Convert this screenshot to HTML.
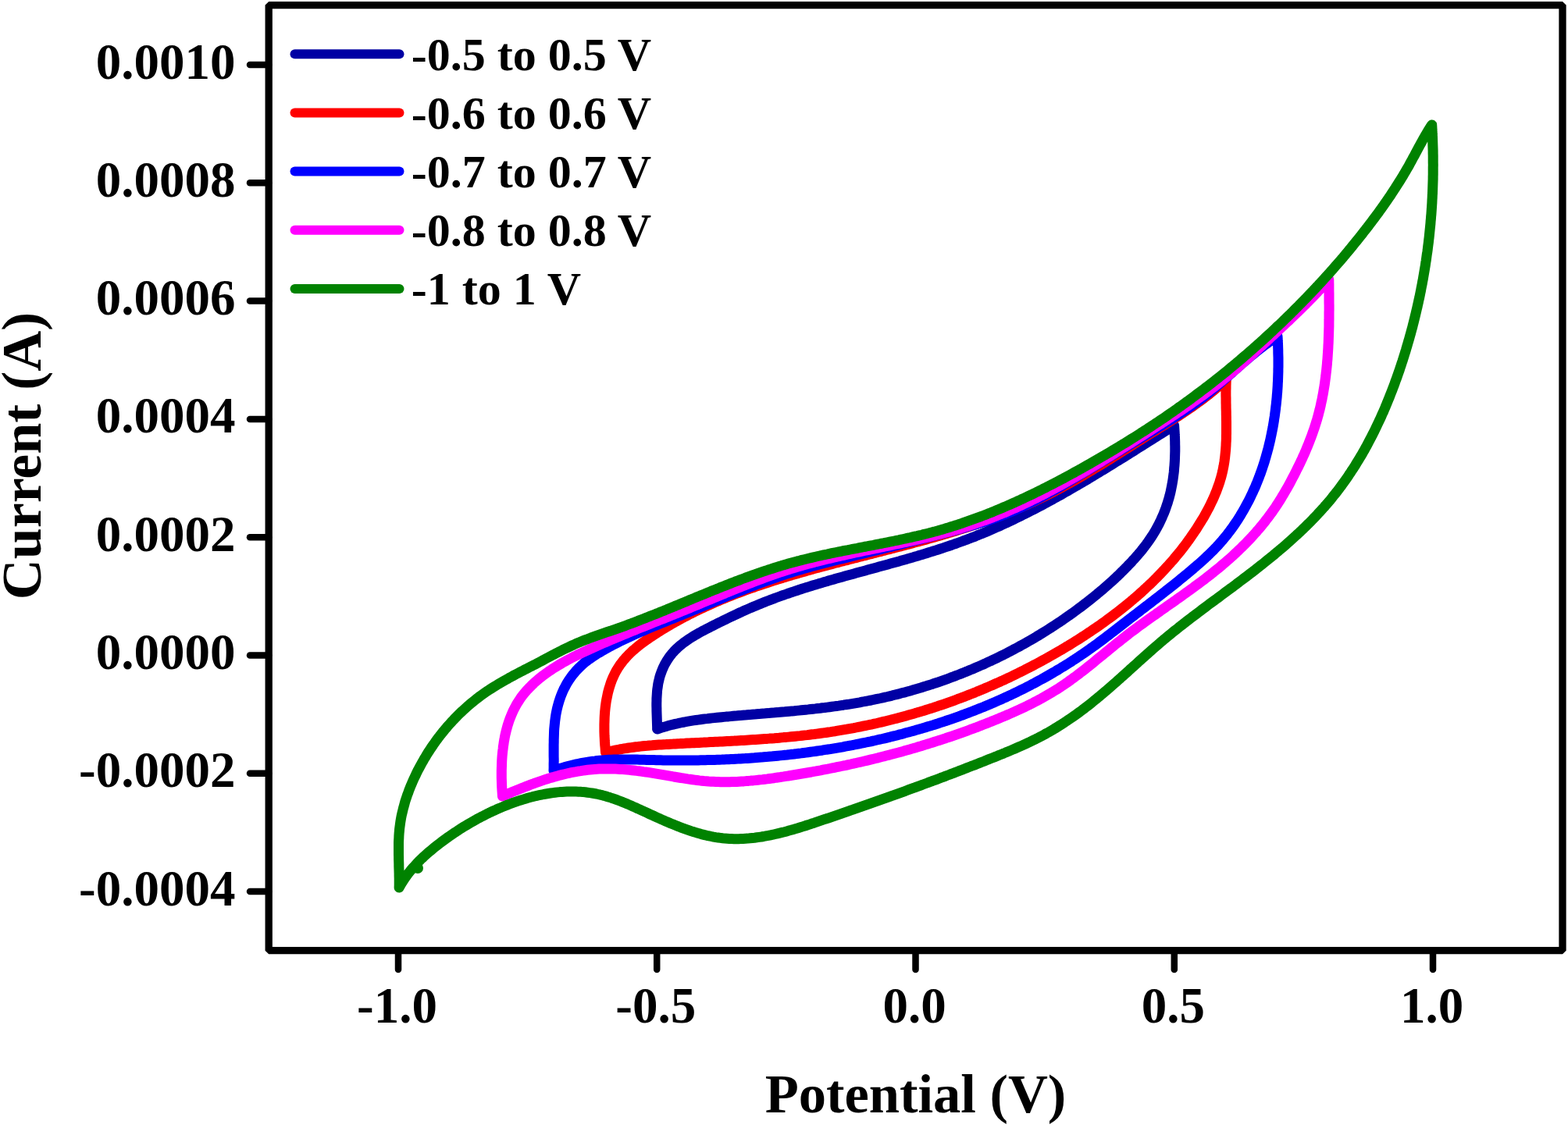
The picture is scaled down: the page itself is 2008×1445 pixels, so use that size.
<!DOCTYPE html>
<html><head><meta charset="utf-8"><title>Cyclic voltammetry</title>
<style>
html,body{margin:0;padding:0;background:#fff;width:2008px;height:1445px;overflow:hidden}
svg{display:block}
.t{font-family:"Liberation Serif",serif;font-weight:bold;font-size:65px;fill:#000}
.l{font-family:"Liberation Serif",serif;font-weight:bold;font-size:60px;fill:#000}
.ti{font-family:"Liberation Serif",serif;font-weight:bold;font-size:70.5px;fill:#000}
</style></head><body>
<svg width="2008" height="1445" viewBox="0 0 2008 1445">
<rect width="2008" height="1445" fill="#fff"/>
<path d="M841.6,934.0 841.6,931.2 841.5,928.3 841.4,925.4 841.3,922.4 841.2,919.4 841.1,916.4 841.0,913.4 840.9,910.3 840.9,907.3 840.8,904.2 840.8,901.1 840.9,898.0 840.9,895.0 841.1,891.9 841.3,888.8 841.5,885.7 841.8,882.7 842.3,879.6 842.7,876.6 843.3,873.6 844.0,870.7 844.7,867.7 845.6,864.8 846.6,862.0 847.6,859.2 848.8,856.4 850.0,853.7 851.3,851.0 852.8,848.4 854.3,845.9 855.9,843.4 857.6,841.0 859.4,838.7 861.2,836.5 863.2,834.3 865.2,832.2 867.3,830.2 869.5,828.2 871.8,826.3 874.1,824.5 876.4,822.7 878.9,820.9 881.3,819.2 883.8,817.6 886.4,816.0 889.0,814.4 891.6,812.9 894.3,811.3 896.9,809.9 899.6,808.4 902.4,807.0 905.1,805.6 907.8,804.2 910.5,802.8 913.3,801.4 916.0,800.0 918.7,798.7 921.5,797.3 924.2,796.0 926.9,794.6 929.6,793.3 932.3,792.0 935.1,790.7 937.8,789.4 940.5,788.1 943.2,786.8 946.0,785.5 948.7,784.3 951.4,783.0 954.2,781.8 956.9,780.6 959.7,779.4 962.4,778.2 965.2,777.0 967.9,775.9 970.7,774.7 973.5,773.6 976.2,772.5 979.0,771.4 981.8,770.3 984.6,769.2 987.4,768.1 990.2,767.1 993.0,766.0 995.8,765.0 998.6,764.0 1001.5,762.9 1004.3,762.0 1007.1,761.0 1010.0,760.0 1012.8,759.0 1015.6,758.1 1018.5,757.1 1021.3,756.2 1024.2,755.2 1027.1,754.3 1029.9,753.4 1032.8,752.5 1035.7,751.6 1038.5,750.7 1041.4,749.8 1044.3,749.0 1047.2,748.1 1050.0,747.2 1052.9,746.4 1055.8,745.5 1058.7,744.7 1061.6,743.8 1064.5,743.0 1067.4,742.2 1070.3,741.3 1073.2,740.5 1076.1,739.7 1079.0,738.9 1081.9,738.1 1084.8,737.3 1087.7,736.5 1090.6,735.7 1093.5,734.9 1096.4,734.1 1099.3,733.3 1102.2,732.5 1105.2,731.7 1108.1,730.9 1111.0,730.1 1113.9,729.3 1116.8,728.5 1119.7,727.7 1122.6,726.9 1125.5,726.1 1128.5,725.3 1131.4,724.5 1134.3,723.7 1137.2,722.9 1140.1,722.1 1143.0,721.3 1145.9,720.5 1148.8,719.7 1151.7,718.9 1154.6,718.0 1157.5,717.2 1160.4,716.4 1163.3,715.6 1166.2,714.7 1169.1,713.9 1172.0,713.0 1174.9,712.2 1177.8,711.3 1180.7,710.5 1183.5,709.6 1186.4,708.7 1189.3,707.8 1192.2,706.9 1195.0,706.0 1197.9,705.1 1200.8,704.2 1203.6,703.3 1206.5,702.3 1209.3,701.4 1212.2,700.4 1215.0,699.5 1217.9,698.5 1220.7,697.5 1223.6,696.5 1226.4,695.5 1229.2,694.5 1232.0,693.5 1234.8,692.4 1237.7,691.4 1240.5,690.3 1243.3,689.2 1246.1,688.2 1248.9,687.1 1251.6,685.9 1254.4,684.8 1257.2,683.7 1260.0,682.5 1262.7,681.4 1265.5,680.2 1268.3,679.0 1271.0,677.8 1273.8,676.6 1276.5,675.4 1279.3,674.2 1282.0,673.0 1284.7,671.7 1287.5,670.4 1290.2,669.2 1292.9,667.9 1295.6,666.6 1298.3,665.3 1301.0,664.0 1303.7,662.7 1306.4,661.4 1309.1,660.0 1311.8,658.7 1314.5,657.3 1317.2,656.0 1319.9,654.6 1322.6,653.2 1325.2,651.9 1327.9,650.5 1330.6,649.1 1333.2,647.7 1335.9,646.2 1338.5,644.8 1341.2,643.4 1343.8,641.9 1346.5,640.5 1349.1,639.0 1351.8,637.6 1354.4,636.1 1357.0,634.7 1359.7,633.2 1362.3,631.7 1364.9,630.2 1367.6,628.7 1370.2,627.2 1372.8,625.7 1375.4,624.2 1378.0,622.7 1380.6,621.1 1383.2,619.6 1385.8,618.1 1388.4,616.5 1391.0,615.0 1393.6,613.5 1396.2,611.9 1398.8,610.4 1401.4,608.8 1404.0,607.2 1406.6,605.7 1409.1,604.1 1411.7,602.5 1414.3,601.0 1416.9,599.4 1419.5,597.8 1422.0,596.2 1424.6,594.6 1427.2,593.0 1429.7,591.4 1432.3,589.9 1434.9,588.3 1437.4,586.7 1440.0,585.1 1442.5,583.5 1445.1,581.9 1447.7,580.3 1450.2,578.7 1452.8,577.1 1455.3,575.4 1457.9,573.8 1460.4,572.2 1463.0,570.6 1465.5,569.0 1468.1,567.4 1470.6,565.8 1473.1,564.2 1475.7,562.6 1478.2,561.0 1480.8,559.4 1483.3,557.8 1485.8,556.2 1488.4,554.6 1490.9,553.0 1493.5,551.4 1496.0,549.8 1498.5,548.2 1501.1,546.6 1503.6,545.0 1503.8,548.0 1504.0,550.9 1504.2,553.9 1504.3,556.9 1504.5,559.9 1504.6,562.9 1504.7,565.9 1504.7,568.9 1504.8,572.0 1504.8,575.0 1504.8,578.1 1504.7,581.1 1504.6,584.2 1504.5,587.2 1504.4,590.3 1504.2,593.3 1504.0,596.4 1503.7,599.4 1503.5,602.4 1503.2,605.5 1502.8,608.5 1502.4,611.5 1502.0,614.5 1501.5,617.5 1501.0,620.5 1500.4,623.5 1499.8,626.5 1499.2,629.4 1498.5,632.4 1497.8,635.3 1497.0,638.2 1496.1,641.1 1495.3,644.0 1494.3,646.8 1493.4,649.6 1492.4,652.5 1491.3,655.2 1490.2,658.0 1489.0,660.8 1487.8,663.5 1486.6,666.2 1485.3,668.9 1484.0,671.6 1482.6,674.2 1481.2,676.8 1479.7,679.4 1478.2,682.0 1476.7,684.5 1475.1,687.0 1473.4,689.5 1471.7,692.0 1470.0,694.4 1468.3,696.8 1466.5,699.2 1464.6,701.6 1462.8,704.0 1460.9,706.3 1459.0,708.6 1457.0,710.9 1455.1,713.2 1453.1,715.4 1451.0,717.6 1449.0,719.9 1446.9,722.1 1444.8,724.2 1442.7,726.4 1440.6,728.6 1438.5,730.7 1436.3,732.8 1434.2,735.0 1432.0,737.1 1429.8,739.1 1427.6,741.2 1425.4,743.3 1423.1,745.3 1420.9,747.3 1418.6,749.3 1416.3,751.3 1414.1,753.3 1411.8,755.3 1409.4,757.3 1407.1,759.2 1404.8,761.2 1402.5,763.1 1400.1,765.0 1397.7,766.9 1395.4,768.8 1393.0,770.6 1390.6,772.5 1388.2,774.3 1385.8,776.2 1383.4,778.0 1380.9,779.8 1378.5,781.6 1376.1,783.4 1373.6,785.2 1371.2,786.9 1368.7,788.7 1366.2,790.4 1363.7,792.1 1361.3,793.9 1358.8,795.6 1356.3,797.2 1353.7,798.9 1351.2,800.6 1348.7,802.2 1346.2,803.9 1343.6,805.5 1341.1,807.1 1338.5,808.7 1336.0,810.3 1333.4,811.9 1330.8,813.5 1328.2,815.0 1325.7,816.6 1323.1,818.1 1320.5,819.6 1317.8,821.1 1315.2,822.6 1312.6,824.1 1310.0,825.6 1307.3,827.0 1304.7,828.5 1302.1,829.9 1299.4,831.3 1296.7,832.8 1294.1,834.1 1291.4,835.5 1288.7,836.9 1286.0,838.3 1283.3,839.6 1280.6,840.9 1277.9,842.3 1275.2,843.6 1272.5,844.9 1269.8,846.2 1267.1,847.4 1264.3,848.7 1261.6,850.0 1258.9,851.2 1256.1,852.4 1253.4,853.6 1250.6,854.8 1247.8,856.0 1245.1,857.2 1242.3,858.3 1239.5,859.5 1236.7,860.6 1233.9,861.8 1231.1,862.9 1228.3,864.0 1225.5,865.0 1222.7,866.1 1219.9,867.2 1217.1,868.2 1214.3,869.3 1211.4,870.3 1208.6,871.3 1205.7,872.3 1202.9,873.3 1200.1,874.3 1197.2,875.2 1194.4,876.2 1191.5,877.1 1188.6,878.0 1185.8,878.9 1182.9,879.8 1180.0,880.7 1177.1,881.6 1174.2,882.4 1171.3,883.3 1168.5,884.1 1165.6,885.0 1162.7,885.8 1159.8,886.6 1156.8,887.3 1153.9,888.1 1151.0,888.9 1148.1,889.6 1145.2,890.3 1142.3,891.1 1139.3,891.8 1136.4,892.5 1133.5,893.1 1130.5,893.8 1127.6,894.5 1124.6,895.1 1121.7,895.7 1118.7,896.3 1115.8,897.0 1112.8,897.5 1109.9,898.1 1106.9,898.7 1103.9,899.2 1101.0,899.8 1098.0,900.3 1095.0,900.8 1092.0,901.3 1089.1,901.8 1086.1,902.3 1083.1,902.7 1080.1,903.2 1077.1,903.6 1074.1,904.1 1071.2,904.5 1068.2,904.9 1065.2,905.3 1062.2,905.7 1059.2,906.1 1056.2,906.5 1053.2,906.8 1050.2,907.2 1047.2,907.5 1044.2,907.9 1041.2,908.2 1038.2,908.5 1035.1,908.9 1032.1,909.2 1029.1,909.5 1026.1,909.8 1023.1,910.1 1020.1,910.4 1017.1,910.7 1014.1,910.9 1011.1,911.2 1008.0,911.5 1005.0,911.8 1002.0,912.0 999.0,912.3 996.0,912.6 993.0,912.8 990.0,913.1 987.0,913.3 983.9,913.6 980.9,913.8 977.9,914.1 974.9,914.3 971.9,914.6 968.9,914.8 965.9,915.1 962.9,915.3 959.9,915.6 956.9,915.8 953.9,916.1 950.9,916.3 947.9,916.6 944.9,916.8 941.9,917.1 938.9,917.3 935.9,917.6 932.9,917.9 929.9,918.1 926.9,918.4 923.9,918.7 920.9,919.0 918.0,919.3 915.0,919.6 912.0,919.9 909.0,920.2 906.0,920.6 903.1,920.9 900.1,921.3 897.1,921.7 894.2,922.1 891.2,922.5 888.3,922.9 885.3,923.4 882.4,923.9 879.4,924.4 876.5,925.0 873.6,925.5 870.6,926.1 867.7,926.8 864.8,927.4 861.9,928.1 859.0,928.8 856.1,929.6 853.2,930.4 850.3,931.2 847.4,932.1 844.5,933.0 841.6,934.0 Z" fill="none" stroke="#0000A4" stroke-width="13" stroke-linejoin="round" stroke-linecap="butt"/>
<path d="M775.6,964.0 775.3,961.1 775.1,958.2 774.8,955.2 774.6,952.3 774.4,949.3 774.3,946.3 774.1,943.2 774.0,940.2 773.9,937.1 773.9,934.0 773.9,931.0 773.9,927.9 774.0,924.8 774.1,921.7 774.2,918.6 774.4,915.5 774.6,912.5 774.9,909.4 775.2,906.3 775.6,903.3 776.0,900.3 776.5,897.2 777.1,894.2 777.7,891.3 778.3,888.3 779.0,885.4 779.8,882.5 780.7,879.6 781.6,876.8 782.5,874.0 783.6,871.2 784.7,868.5 785.9,865.8 787.2,863.2 788.5,860.6 790.0,858.0 791.5,855.5 793.1,853.1 794.7,850.7 796.5,848.4 798.3,846.1 800.2,843.9 802.2,841.7 804.2,839.5 806.3,837.4 808.4,835.4 810.6,833.3 812.9,831.4 815.2,829.4 817.5,827.5 819.9,825.6 822.3,823.8 824.8,822.0 827.2,820.2 829.7,818.5 832.3,816.7 834.8,815.0 837.4,813.3 839.9,811.7 842.5,810.0 845.1,808.4 847.7,806.8 850.3,805.2 852.9,803.6 855.5,802.1 858.1,800.6 860.8,799.0 863.4,797.5 866.1,796.1 868.7,794.6 871.4,793.2 874.0,791.7 876.7,790.3 879.4,788.9 882.0,787.5 884.7,786.2 887.4,784.8 890.1,783.5 892.8,782.2 895.5,780.8 898.2,779.6 901.0,778.3 903.7,777.0 906.4,775.8 909.2,774.5 911.9,773.3 914.7,772.1 917.4,770.9 920.2,769.7 922.9,768.6 925.7,767.4 928.5,766.3 931.3,765.1 934.0,764.0 936.8,762.9 939.6,761.8 942.4,760.7 945.2,759.7 948.0,758.6 950.8,757.6 953.7,756.5 956.5,755.5 959.3,754.5 962.1,753.5 965.0,752.5 967.8,751.5 970.6,750.5 973.5,749.6 976.3,748.6 979.2,747.6 982.0,746.7 984.9,745.8 987.7,744.9 990.6,743.9 993.5,743.0 996.3,742.1 999.2,741.2 1002.1,740.4 1005.0,739.5 1007.8,738.6 1010.7,737.7 1013.6,736.9 1016.5,736.0 1019.4,735.2 1022.3,734.4 1025.2,733.5 1028.1,732.7 1031.0,731.9 1033.9,731.1 1036.8,730.3 1039.7,729.4 1042.6,728.6 1045.5,727.8 1048.4,727.1 1051.3,726.3 1054.2,725.5 1057.2,724.7 1060.1,723.9 1063.0,723.2 1065.9,722.4 1068.8,721.6 1071.7,720.8 1074.7,720.1 1077.6,719.3 1080.5,718.6 1083.4,717.8 1086.4,717.1 1089.3,716.3 1092.2,715.6 1095.1,714.8 1098.1,714.1 1101.0,713.3 1103.9,712.6 1106.8,711.8 1109.8,711.1 1112.7,710.3 1115.6,709.6 1118.6,708.8 1121.5,708.1 1124.4,707.3 1127.3,706.6 1130.3,705.8 1133.2,705.1 1136.1,704.3 1139.0,703.6 1142.0,702.8 1144.9,702.1 1147.8,701.3 1150.7,700.5 1153.7,699.8 1156.6,699.0 1159.5,698.2 1162.4,697.5 1165.3,696.7 1168.2,695.9 1171.1,695.1 1174.1,694.3 1177.0,693.6 1179.9,692.8 1182.8,692.0 1185.7,691.2 1188.6,690.3 1191.5,689.5 1194.4,688.7 1197.3,687.9 1200.2,687.1 1203.1,686.2 1206.0,685.4 1208.8,684.5 1211.7,683.7 1214.6,682.8 1217.5,682.0 1220.4,681.1 1223.2,680.2 1226.1,679.3 1229.0,678.4 1231.8,677.5 1234.7,676.6 1237.5,675.7 1240.4,674.8 1243.3,673.8 1246.1,672.9 1248.9,671.9 1251.8,671.0 1254.6,670.0 1257.5,669.0 1260.3,668.0 1263.1,667.0 1265.9,666.0 1268.8,665.0 1271.6,664.0 1274.4,663.0 1277.2,661.9 1280.0,660.9 1282.8,659.8 1285.6,658.7 1288.4,657.6 1291.1,656.5 1293.9,655.4 1296.7,654.3 1299.5,653.1 1302.2,652.0 1305.0,650.8 1307.7,649.6 1310.5,648.4 1313.2,647.2 1316.0,646.0 1318.7,644.8 1321.4,643.6 1324.1,642.3 1326.9,641.0 1329.6,639.7 1332.3,638.4 1335.0,637.1 1337.7,635.8 1340.4,634.5 1343.0,633.1 1345.7,631.8 1348.4,630.4 1351.1,629.0 1353.7,627.6 1356.4,626.2 1359.0,624.8 1361.7,623.3 1364.3,621.9 1367.0,620.4 1369.6,619.0 1372.2,617.5 1374.9,616.0 1377.5,614.5 1380.1,613.0 1382.7,611.5 1385.3,610.0 1387.9,608.5 1390.6,606.9 1393.2,605.4 1395.8,603.8 1398.4,602.3 1400.9,600.7 1403.5,599.2 1406.1,597.6 1408.7,596.0 1411.3,594.5 1413.9,592.9 1416.4,591.3 1419.0,589.7 1421.6,588.1 1424.2,586.5 1426.7,584.9 1429.3,583.3 1431.9,581.7 1434.4,580.1 1437.0,578.5 1439.5,576.9 1442.1,575.2 1444.7,573.6 1447.2,572.0 1449.8,570.4 1452.3,568.8 1454.9,567.2 1457.4,565.6 1460.0,564.0 1462.5,562.3 1465.1,560.7 1467.6,559.1 1470.2,557.5 1472.7,555.9 1475.3,554.3 1477.8,552.7 1480.4,551.1 1482.9,549.5 1485.4,547.9 1488.0,546.4 1490.5,544.8 1493.1,543.2 1495.6,541.6 1498.1,539.9 1500.7,538.3 1503.2,536.7 1505.7,535.1 1508.2,533.5 1510.7,531.8 1513.2,530.2 1515.7,528.5 1518.2,526.9 1520.7,525.2 1523.1,523.5 1525.6,521.8 1528.0,520.1 1530.5,518.3 1532.9,516.6 1535.3,514.8 1537.8,513.1 1540.2,511.3 1542.6,509.4 1544.9,507.6 1547.3,505.8 1549.7,503.9 1552.0,502.0 1554.4,500.1 1556.7,498.1 1559.0,496.2 1561.3,494.2 1563.6,492.2 1565.8,490.2 1568.1,488.1 1570.3,486.0 1570.2,488.9 1570.1,491.8 1570.0,494.8 1570.0,497.7 1569.9,500.7 1569.9,503.7 1569.9,506.7 1570.0,509.7 1570.0,512.7 1570.0,515.7 1570.1,518.7 1570.1,521.7 1570.2,524.8 1570.3,527.8 1570.3,530.9 1570.4,533.9 1570.4,537.0 1570.5,540.1 1570.5,543.1 1570.5,546.2 1570.5,549.3 1570.5,552.3 1570.5,555.4 1570.4,558.4 1570.4,561.5 1570.3,564.5 1570.1,567.6 1570.0,570.6 1569.8,573.7 1569.6,576.7 1569.3,579.7 1569.0,582.7 1568.7,585.7 1568.3,588.7 1567.9,591.7 1567.4,594.7 1566.9,597.6 1566.3,600.6 1565.7,603.5 1565.0,606.4 1564.3,609.3 1563.5,612.2 1562.6,615.0 1561.8,617.9 1560.8,620.7 1559.8,623.5 1558.8,626.3 1557.8,629.1 1556.6,631.9 1555.5,634.6 1554.3,637.4 1553.1,640.1 1551.8,642.8 1550.5,645.5 1549.2,648.2 1547.8,650.9 1546.4,653.5 1545.0,656.1 1543.5,658.8 1542.1,661.4 1540.6,664.0 1539.0,666.5 1537.5,669.1 1535.9,671.6 1534.3,674.2 1532.7,676.7 1531.1,679.2 1529.4,681.7 1527.7,684.2 1526.0,686.6 1524.3,689.1 1522.6,691.5 1520.8,693.9 1519.1,696.3 1517.3,698.7 1515.4,701.1 1513.6,703.4 1511.8,705.8 1509.9,708.1 1508.0,710.4 1506.1,712.7 1504.2,715.0 1502.3,717.3 1500.3,719.5 1498.3,721.8 1496.3,724.0 1494.3,726.2 1492.3,728.4 1490.3,730.6 1488.2,732.8 1486.1,735.0 1484.1,737.1 1482.0,739.3 1479.8,741.4 1477.7,743.5 1475.6,745.6 1473.4,747.7 1471.2,749.8 1469.0,751.8 1466.8,753.9 1464.6,755.9 1462.4,758.0 1460.1,760.0 1457.9,762.0 1455.6,764.0 1453.3,765.9 1451.0,767.9 1448.7,769.8 1446.4,771.8 1444.1,773.7 1441.7,775.6 1439.4,777.5 1437.0,779.4 1434.7,781.3 1432.3,783.1 1429.9,785.0 1427.5,786.8 1425.0,788.7 1422.6,790.5 1420.2,792.3 1417.7,794.1 1415.3,795.9 1412.8,797.7 1410.3,799.4 1407.8,801.2 1405.4,802.9 1402.9,804.6 1400.3,806.3 1397.8,808.1 1395.3,809.7 1392.8,811.4 1390.2,813.1 1387.7,814.8 1385.1,816.4 1382.6,818.1 1380.0,819.7 1377.4,821.3 1374.9,822.9 1372.3,824.5 1369.7,826.1 1367.1,827.7 1364.5,829.2 1361.9,830.8 1359.3,832.4 1356.6,833.9 1354.0,835.4 1351.4,836.9 1348.8,838.4 1346.1,839.9 1343.5,841.4 1340.9,842.9 1338.2,844.4 1335.6,845.8 1332.9,847.3 1330.2,848.7 1327.6,850.1 1324.9,851.5 1322.2,853.0 1319.6,854.4 1316.9,855.7 1314.2,857.1 1311.5,858.5 1308.8,859.8 1306.1,861.2 1303.4,862.5 1300.7,863.8 1298.0,865.2 1295.3,866.5 1292.5,867.8 1289.8,869.0 1287.1,870.3 1284.4,871.6 1281.6,872.8 1278.9,874.1 1276.1,875.3 1273.4,876.5 1270.7,877.7 1267.9,878.9 1265.1,880.1 1262.4,881.3 1259.6,882.5 1256.8,883.6 1254.1,884.8 1251.3,885.9 1248.5,887.1 1245.7,888.2 1242.9,889.3 1240.1,890.4 1237.3,891.5 1234.5,892.6 1231.7,893.6 1228.9,894.7 1226.1,895.7 1223.3,896.8 1220.5,897.8 1217.7,898.8 1214.8,899.8 1212.0,900.8 1209.2,901.8 1206.4,902.8 1203.5,903.7 1200.7,904.7 1197.8,905.6 1195.0,906.6 1192.1,907.5 1189.3,908.4 1186.4,909.3 1183.5,910.2 1180.7,911.1 1177.8,911.9 1174.9,912.8 1172.1,913.6 1169.2,914.5 1166.3,915.3 1163.4,916.1 1160.5,916.9 1157.6,917.7 1154.8,918.5 1151.9,919.3 1149.0,920.1 1146.1,920.8 1143.2,921.5 1140.2,922.3 1137.3,923.0 1134.4,923.7 1131.5,924.4 1128.6,925.1 1125.7,925.8 1122.7,926.5 1119.8,927.1 1116.9,927.8 1113.9,928.4 1111.0,929.0 1108.1,929.6 1105.1,930.2 1102.2,930.8 1099.2,931.4 1096.3,932.0 1093.3,932.6 1090.4,933.1 1087.4,933.6 1084.4,934.2 1081.5,934.7 1078.5,935.2 1075.5,935.7 1072.6,936.2 1069.6,936.7 1066.6,937.1 1063.6,937.6 1060.7,938.0 1057.7,938.5 1054.7,938.9 1051.7,939.3 1048.7,939.7 1045.7,940.1 1042.7,940.5 1039.7,940.8 1036.7,941.2 1033.7,941.6 1030.7,941.9 1027.7,942.2 1024.7,942.6 1021.7,942.9 1018.7,943.2 1015.7,943.5 1012.7,943.8 1009.7,944.1 1006.7,944.4 1003.6,944.6 1000.6,944.9 997.6,945.2 994.6,945.4 991.6,945.7 988.5,945.9 985.5,946.1 982.5,946.4 979.5,946.6 976.5,946.8 973.4,947.0 970.4,947.2 967.4,947.4 964.4,947.6 961.3,947.8 958.3,948.0 955.3,948.2 952.3,948.4 949.2,948.5 946.2,948.7 943.2,948.9 940.2,949.1 937.1,949.2 934.1,949.4 931.1,949.5 928.1,949.7 925.1,949.9 922.0,950.0 919.0,950.2 916.0,950.3 913.0,950.5 910.0,950.6 906.9,950.8 903.9,950.9 900.9,951.1 897.9,951.2 894.9,951.4 891.9,951.5 888.9,951.7 885.9,951.8 882.8,952.0 879.8,952.1 876.8,952.3 873.8,952.4 870.8,952.6 867.8,952.7 864.8,952.9 861.9,953.1 858.9,953.2 855.9,953.4 852.9,953.6 849.9,953.7 846.9,953.9 843.9,954.1 841.0,954.3 838.0,954.5 835.0,954.8 832.0,955.0 829.0,955.3 826.1,955.5 823.1,955.8 820.1,956.1 817.2,956.5 814.2,956.8 811.2,957.2 808.3,957.6 805.3,958.0 802.3,958.5 799.3,958.9 796.4,959.5 793.4,960.0 790.4,960.6 787.5,961.2 784.5,961.8 781.5,962.5 778.6,963.2 775.6,964.0 Z" fill="none" stroke="#FF0000" stroke-width="13" stroke-linejoin="round" stroke-linecap="butt"/>
<path d="M709.0,987.0 709.1,984.0 709.1,981.1 709.1,978.1 709.2,975.1 709.2,972.1 709.1,969.1 709.1,966.1 709.1,963.1 709.1,960.0 709.1,957.0 709.1,954.0 709.2,951.0 709.2,947.9 709.3,944.9 709.4,941.9 709.5,938.9 709.6,935.8 709.8,932.8 710.1,929.8 710.4,926.8 710.7,923.8 711.1,920.8 711.5,917.8 712.0,914.8 712.6,911.8 713.2,908.8 713.9,905.9 714.7,902.9 715.5,900.0 716.4,897.1 717.4,894.2 718.4,891.4 719.5,888.6 720.7,885.8 721.9,883.1 723.3,880.4 724.7,877.7 726.2,875.1 727.8,872.6 729.4,870.1 731.1,867.6 732.9,865.2 734.8,862.9 736.7,860.6 738.7,858.3 740.8,856.2 742.9,854.1 745.1,852.0 747.3,850.0 749.6,848.1 752.0,846.3 754.3,844.5 756.8,842.8 759.3,841.1 761.8,839.5 764.3,837.9 766.9,836.3 769.5,834.8 772.0,833.3 774.7,831.8 777.3,830.4 779.9,828.9 782.5,827.5 785.2,826.1 787.9,824.7 790.5,823.4 793.2,822.0 795.9,820.7 798.6,819.4 801.3,818.1 804.0,816.8 806.8,815.5 809.5,814.3 812.2,813.0 815.0,811.8 817.7,810.6 820.5,809.4 823.2,808.2 826.0,807.0 828.8,805.8 831.6,804.6 834.3,803.5 837.1,802.3 839.9,801.2 842.7,800.0 845.5,798.9 848.3,797.7 851.1,796.6 853.9,795.5 856.7,794.3 859.5,793.2 862.3,792.1 865.1,791.0 867.9,789.8 870.7,788.7 873.5,787.6 876.3,786.4 879.1,785.3 881.8,784.1 884.6,783.0 887.4,781.8 890.2,780.7 893.0,779.5 895.8,778.4 898.5,777.2 901.3,776.1 904.1,774.9 906.9,773.8 909.7,772.6 912.4,771.5 915.2,770.3 918.0,769.2 920.8,768.0 923.5,766.9 926.3,765.7 929.1,764.6 931.9,763.4 934.7,762.3 937.5,761.2 940.2,760.0 943.0,758.9 945.8,757.8 948.6,756.7 951.4,755.6 954.2,754.5 957.0,753.4 959.8,752.3 962.6,751.2 965.4,750.1 968.2,749.0 971.0,748.0 973.8,746.9 976.6,745.9 979.4,744.8 982.3,743.8 985.1,742.8 987.9,741.8 990.7,740.8 993.6,739.8 996.4,738.8 999.3,737.9 1002.1,736.9 1005.0,736.0 1007.8,735.0 1010.7,734.1 1013.6,733.2 1016.4,732.3 1019.3,731.4 1022.2,730.6 1025.1,729.7 1028.0,728.9 1030.9,728.0 1033.8,727.2 1036.7,726.4 1039.6,725.6 1042.5,724.8 1045.4,724.0 1048.4,723.2 1051.3,722.5 1054.2,721.7 1057.1,721.0 1060.1,720.2 1063.0,719.5 1065.9,718.7 1068.9,718.0 1071.8,717.3 1074.7,716.5 1077.7,715.8 1080.6,715.1 1083.5,714.4 1086.5,713.7 1089.4,712.9 1092.4,712.2 1095.3,711.5 1098.2,710.8 1101.2,710.1 1104.1,709.4 1107.0,708.7 1109.9,707.9 1112.9,707.2 1115.8,706.5 1118.7,705.8 1121.7,705.1 1124.6,704.4 1127.5,703.7 1130.4,702.9 1133.3,702.2 1136.3,701.5 1139.2,700.8 1142.1,700.1 1145.0,699.3 1147.9,698.6 1150.9,697.9 1153.8,697.2 1156.7,696.4 1159.6,695.7 1162.5,695.0 1165.4,694.2 1168.4,693.5 1171.3,692.8 1174.2,692.0 1177.1,691.3 1180.0,690.5 1182.9,689.8 1185.9,689.1 1188.8,688.3 1191.7,687.6 1194.6,686.8 1197.5,686.1 1200.4,685.3 1203.3,684.6 1206.2,683.8 1209.2,683.1 1212.1,682.3 1215.0,681.5 1217.9,680.8 1220.8,680.0 1223.7,679.2 1226.6,678.4 1229.5,677.6 1232.4,676.8 1235.3,676.0 1238.2,675.1 1241.1,674.3 1244.0,673.4 1246.9,672.6 1249.8,671.7 1252.6,670.8 1255.5,669.9 1258.4,669.0 1261.2,668.1 1264.1,667.1 1266.9,666.2 1269.8,665.2 1272.6,664.2 1275.4,663.2 1278.2,662.1 1281.1,661.1 1283.9,660.0 1286.7,658.9 1289.4,657.8 1292.2,656.6 1295.0,655.5 1297.8,654.3 1300.5,653.1 1303.3,651.8 1306.0,650.6 1308.7,649.3 1311.5,648.1 1314.2,646.7 1316.9,645.4 1319.6,644.1 1322.3,642.7 1325.0,641.4 1327.7,640.0 1330.3,638.6 1333.0,637.2 1335.7,635.8 1338.3,634.3 1341.0,632.9 1343.6,631.4 1346.3,629.9 1348.9,628.5 1351.6,627.0 1354.2,625.5 1356.8,624.0 1359.4,622.5 1362.1,620.9 1364.7,619.4 1367.3,617.9 1369.9,616.3 1372.5,614.8 1375.1,613.2 1377.7,611.7 1380.3,610.1 1382.9,608.6 1385.4,607.0 1388.0,605.5 1390.6,603.9 1393.2,602.4 1395.8,600.8 1398.4,599.2 1400.9,597.7 1403.5,596.1 1406.1,594.6 1408.6,593.0 1411.2,591.4 1413.8,589.9 1416.3,588.3 1418.9,586.8 1421.5,585.2 1424.0,583.6 1426.6,582.1 1429.2,580.5 1431.7,579.0 1434.3,577.4 1436.9,575.8 1439.4,574.3 1442.0,572.7 1444.5,571.2 1447.1,569.6 1449.7,568.0 1452.2,566.5 1454.8,564.9 1457.4,563.4 1459.9,561.8 1462.5,560.2 1465.1,558.7 1467.6,557.1 1470.2,555.6 1472.8,554.0 1475.4,552.4 1477.9,550.9 1480.5,549.3 1483.1,547.7 1485.7,546.2 1488.3,544.6 1490.8,543.0 1493.4,541.4 1496.0,539.8 1498.5,538.2 1501.1,536.6 1503.6,535.0 1506.2,533.4 1508.7,531.7 1511.2,530.1 1513.7,528.4 1516.3,526.7 1518.8,525.1 1521.2,523.4 1523.7,521.6 1526.2,519.9 1528.6,518.2 1531.1,516.4 1533.5,514.6 1535.9,512.8 1538.3,511.0 1540.7,509.2 1543.1,507.3 1545.4,505.4 1547.7,503.5 1550.1,501.6 1552.4,499.7 1554.7,497.7 1557.0,495.8 1559.2,493.8 1561.5,491.8 1563.8,489.8 1566.0,487.8 1568.3,485.8 1570.5,483.8 1572.8,481.8 1575.0,479.8 1577.3,477.8 1579.5,475.8 1581.7,473.8 1584.0,471.8 1586.2,469.8 1588.5,467.8 1590.7,465.8 1593.0,463.8 1595.3,461.8 1597.6,459.9 1599.8,457.9 1602.1,456.0 1604.5,454.1 1606.8,452.2 1609.1,450.3 1611.5,448.4 1613.8,446.5 1616.2,444.7 1618.6,442.9 1621.0,441.1 1623.5,439.4 1625.9,437.6 1628.4,435.9 1630.9,434.3 1633.4,432.6 1636.0,431.0 1636.2,434.0 1636.3,437.0 1636.5,440.0 1636.6,443.0 1636.7,446.0 1636.8,449.0 1636.8,452.0 1636.9,455.0 1637.0,458.0 1637.0,461.0 1637.0,464.1 1637.0,467.1 1637.0,470.1 1636.9,473.1 1636.9,476.1 1636.8,479.1 1636.7,482.2 1636.6,485.2 1636.5,488.2 1636.3,491.2 1636.2,494.2 1636.0,497.2 1635.8,500.2 1635.6,503.2 1635.3,506.2 1635.1,509.2 1634.8,512.2 1634.5,515.2 1634.2,518.2 1633.8,521.2 1633.5,524.2 1633.1,527.2 1632.7,530.2 1632.3,533.2 1631.8,536.2 1631.4,539.1 1630.9,542.1 1630.4,545.1 1629.9,548.0 1629.3,551.0 1628.7,553.9 1628.1,556.9 1627.5,559.8 1626.9,562.8 1626.2,565.7 1625.5,568.6 1624.8,571.5 1624.1,574.4 1623.3,577.3 1622.5,580.2 1621.7,583.1 1620.9,586.0 1620.0,588.9 1619.2,591.8 1618.3,594.6 1617.3,597.5 1616.4,600.3 1615.4,603.2 1614.4,606.0 1613.3,608.8 1612.3,611.6 1611.2,614.4 1610.1,617.2 1608.9,620.0 1607.8,622.8 1606.6,625.5 1605.3,628.3 1604.1,631.0 1602.8,633.7 1601.5,636.5 1600.2,639.2 1598.8,641.9 1597.4,644.6 1596.0,647.2 1594.5,649.9 1593.1,652.5 1591.6,655.1 1590.0,657.7 1588.5,660.3 1586.9,662.9 1585.3,665.4 1583.6,668.0 1581.9,670.5 1580.2,673.0 1578.5,675.4 1576.7,677.9 1574.9,680.3 1573.1,682.7 1571.3,685.1 1569.4,687.4 1567.5,689.7 1565.6,692.0 1563.6,694.3 1561.6,696.6 1559.6,698.8 1557.5,701.0 1555.4,703.1 1553.4,705.3 1551.2,707.4 1549.1,709.5 1546.9,711.6 1544.7,713.6 1542.5,715.7 1540.3,717.7 1538.1,719.7 1535.9,721.7 1533.6,723.7 1531.3,725.7 1529.0,727.6 1526.8,729.6 1524.5,731.5 1522.1,733.5 1519.8,735.4 1517.5,737.3 1515.2,739.2 1512.9,741.1 1510.5,743.0 1508.2,744.9 1505.8,746.8 1503.5,748.7 1501.1,750.6 1498.8,752.4 1496.4,754.3 1494.0,756.2 1491.7,758.0 1489.3,759.9 1486.9,761.7 1484.6,763.6 1482.2,765.4 1479.8,767.3 1477.4,769.1 1475.1,770.9 1472.7,772.8 1470.3,774.6 1467.9,776.4 1465.5,778.3 1463.1,780.1 1460.7,781.9 1458.4,783.8 1456.0,785.6 1453.6,787.4 1451.2,789.3 1448.8,791.1 1446.4,792.9 1444.1,794.8 1441.7,796.6 1439.3,798.5 1436.9,800.3 1434.5,802.2 1432.1,804.0 1429.8,805.8 1427.4,807.7 1425.0,809.5 1422.6,811.4 1420.2,813.2 1417.8,815.0 1415.4,816.9 1413.0,818.7 1410.6,820.5 1408.2,822.3 1405.8,824.1 1403.3,825.9 1400.9,827.6 1398.5,829.4 1396.0,831.1 1393.6,832.9 1391.1,834.6 1388.6,836.3 1386.2,838.0 1383.7,839.7 1381.2,841.4 1378.7,843.0 1376.2,844.7 1373.6,846.3 1371.1,848.0 1368.6,849.6 1366.0,851.2 1363.5,852.8 1360.9,854.3 1358.4,855.9 1355.8,857.5 1353.2,859.0 1350.7,860.5 1348.1,862.0 1345.5,863.5 1342.9,865.0 1340.3,866.5 1337.7,868.0 1335.0,869.5 1332.4,870.9 1329.8,872.3 1327.1,873.8 1324.5,875.2 1321.8,876.6 1319.2,878.0 1316.5,879.3 1313.8,880.7 1311.2,882.1 1308.5,883.4 1305.8,884.7 1303.1,886.1 1300.4,887.4 1297.7,888.7 1295.0,890.0 1292.2,891.2 1289.5,892.5 1286.8,893.7 1284.1,895.0 1281.3,896.2 1278.6,897.4 1275.8,898.7 1273.1,899.9 1270.3,901.0 1267.5,902.2 1264.8,903.4 1262.0,904.5 1259.2,905.7 1256.4,906.8 1253.6,907.9 1250.8,909.0 1248.0,910.1 1245.2,911.2 1242.4,912.3 1239.6,913.4 1236.8,914.4 1234.0,915.5 1231.1,916.5 1228.3,917.6 1225.5,918.6 1222.6,919.6 1219.8,920.6 1216.9,921.6 1214.1,922.5 1211.2,923.5 1208.4,924.5 1205.5,925.4 1202.6,926.3 1199.8,927.3 1196.9,928.2 1194.0,929.1 1191.1,930.0 1188.2,930.8 1185.3,931.7 1182.5,932.6 1179.6,933.4 1176.7,934.3 1173.8,935.1 1170.9,935.9 1167.9,936.8 1165.0,937.6 1162.1,938.3 1159.2,939.1 1156.3,939.9 1153.4,940.7 1150.4,941.4 1147.5,942.2 1144.6,942.9 1141.6,943.6 1138.7,944.4 1135.8,945.1 1132.8,945.8 1129.9,946.5 1126.9,947.1 1124.0,947.8 1121.0,948.5 1118.1,949.1 1115.1,949.8 1112.2,950.4 1109.2,951.0 1106.3,951.6 1103.3,952.2 1100.3,952.8 1097.4,953.4 1094.4,954.0 1091.4,954.6 1088.5,955.1 1085.5,955.7 1082.5,956.2 1079.6,956.8 1076.6,957.3 1073.6,957.8 1070.6,958.3 1067.7,958.8 1064.7,959.3 1061.7,959.8 1058.7,960.2 1055.7,960.7 1052.8,961.2 1049.8,961.6 1046.8,962.0 1043.8,962.5 1040.8,962.9 1037.8,963.3 1034.8,963.7 1031.9,964.1 1028.9,964.5 1025.9,964.9 1022.9,965.2 1019.9,965.6 1016.9,966.0 1013.9,966.3 1011.0,966.6 1008.0,967.0 1005.0,967.3 1002.0,967.6 999.0,967.9 996.0,968.2 993.0,968.5 990.0,968.8 987.1,969.1 984.1,969.3 981.1,969.6 978.1,969.8 975.1,970.1 972.1,970.3 969.1,970.5 966.1,970.8 963.2,971.0 960.2,971.2 957.2,971.4 954.2,971.6 951.2,971.7 948.2,971.9 945.2,972.1 942.2,972.2 939.2,972.4 936.2,972.5 933.3,972.7 930.3,972.8 927.3,972.9 924.3,973.1 921.3,973.2 918.3,973.3 915.3,973.4 912.3,973.5 909.3,973.6 906.3,973.6 903.3,973.7 900.3,973.8 897.3,973.8 894.3,973.9 891.3,973.9 888.3,974.0 885.3,974.0 882.3,974.0 879.3,974.0 876.3,974.0 873.3,974.0 870.3,974.0 867.3,974.0 864.3,974.0 861.3,974.0 858.3,974.0 855.2,974.0 852.2,973.9 849.2,973.9 846.2,973.8 843.2,973.8 840.2,973.7 837.2,973.6 834.1,973.6 831.1,973.5 828.1,973.4 825.1,973.3 822.0,973.3 819.0,973.2 816.0,973.1 813.0,973.0 810.0,973.0 806.9,973.0 803.9,972.9 800.9,972.9 797.9,972.9 794.9,972.9 791.9,973.0 788.8,973.0 785.8,973.1 782.8,973.2 779.8,973.3 776.8,973.5 773.8,973.7 770.8,973.9 767.8,974.2 764.8,974.5 761.9,974.9 758.9,975.2 755.9,975.6 752.9,976.1 750.0,976.6 747.0,977.1 744.0,977.7 741.1,978.3 738.1,978.9 735.2,979.6 732.3,980.3 729.3,981.0 726.4,981.8 723.5,982.6 720.6,983.4 717.7,984.2 714.8,985.1 711.9,986.1 709.0,987.0 Z" fill="none" stroke="#0000FF" stroke-width="13" stroke-linejoin="round" stroke-linecap="butt"/>
<path d="M643.5,1020.0 643.3,1017.1 643.1,1014.2 642.9,1011.2 642.7,1008.3 642.6,1005.3 642.5,1002.3 642.4,999.3 642.3,996.2 642.3,993.2 642.3,990.2 642.3,987.1 642.4,984.0 642.5,981.0 642.6,977.9 642.7,974.8 642.9,971.7 643.1,968.7 643.4,965.6 643.7,962.5 644.1,959.5 644.4,956.4 644.9,953.4 645.3,950.3 645.9,947.3 646.4,944.3 647.0,941.3 647.7,938.4 648.4,935.4 649.2,932.5 650.0,929.6 650.9,926.8 651.8,923.9 652.8,921.1 653.9,918.3 655.0,915.6 656.2,912.9 657.4,910.2 658.7,907.6 660.1,905.0 661.5,902.4 663.0,899.9 664.6,897.4 666.2,895.0 667.9,892.6 669.7,890.3 671.5,888.0 673.4,885.8 675.4,883.5 677.4,881.4 679.5,879.3 681.6,877.2 683.7,875.2 686.0,873.2 688.2,871.2 690.5,869.3 692.9,867.4 695.2,865.5 697.7,863.7 700.1,862.0 702.6,860.2 705.1,858.5 707.6,856.8 710.2,855.2 712.8,853.6 715.4,852.0 718.0,850.5 720.7,848.9 723.3,847.5 726.0,846.0 728.7,844.6 731.4,843.1 734.1,841.7 736.8,840.4 739.5,839.0 742.3,837.7 745.0,836.4 747.7,835.1 750.5,833.8 753.3,832.5 756.0,831.3 758.8,830.0 761.5,828.8 764.3,827.5 767.1,826.3 769.8,825.1 772.6,823.9 775.4,822.7 778.2,821.5 780.9,820.3 783.7,819.1 786.5,818.0 789.3,816.8 792.0,815.7 794.8,814.5 797.6,813.4 800.4,812.2 803.2,811.1 805.9,809.9 808.7,808.8 811.5,807.7 814.3,806.6 817.1,805.4 819.8,804.3 822.6,803.2 825.4,802.1 828.2,801.0 831.0,799.9 833.8,798.8 836.6,797.6 839.3,796.5 842.1,795.4 844.9,794.3 847.7,793.2 850.5,792.1 853.3,791.0 856.1,789.9 858.8,788.8 861.6,787.6 864.4,786.5 867.2,785.4 870.0,784.3 872.8,783.1 875.5,782.0 878.3,780.9 881.1,779.7 883.9,778.6 886.7,777.4 889.4,776.3 892.2,775.1 895.0,774.0 897.8,772.8 900.6,771.6 903.3,770.5 906.1,769.3 908.9,768.2 911.7,767.0 914.5,765.8 917.2,764.7 920.0,763.5 922.8,762.4 925.6,761.2 928.4,760.1 931.2,758.9 934.0,757.8 936.7,756.6 939.5,755.5 942.3,754.4 945.1,753.2 947.9,752.1 950.7,751.0 953.5,749.9 956.3,748.8 959.1,747.7 962.0,746.6 964.8,745.5 967.6,744.4 970.4,743.4 973.2,742.3 976.1,741.3 978.9,740.2 981.7,739.2 984.5,738.2 987.4,737.2 990.2,736.2 993.1,735.2 995.9,734.2 998.8,733.2 1001.6,732.3 1004.5,731.4 1007.4,730.4 1010.2,729.5 1013.1,728.6 1016.0,727.7 1018.9,726.9 1021.7,726.0 1024.6,725.2 1027.5,724.4 1030.4,723.5 1033.3,722.7 1036.2,722.0 1039.2,721.2 1042.1,720.4 1045.0,719.6 1047.9,718.9 1050.8,718.2 1053.8,717.4 1056.7,716.7 1059.6,716.0 1062.6,715.3 1065.5,714.6 1068.4,713.9 1071.4,713.3 1074.3,712.6 1077.3,711.9 1080.2,711.3 1083.2,710.6 1086.1,710.0 1089.1,709.3 1092.0,708.7 1095.0,708.0 1097.9,707.4 1100.9,706.8 1103.8,706.2 1106.8,705.5 1109.8,704.9 1112.7,704.3 1115.7,703.7 1118.6,703.1 1121.6,702.5 1124.6,701.8 1127.5,701.2 1130.5,700.6 1133.4,700.0 1136.4,699.4 1139.3,698.8 1142.3,698.2 1145.3,697.5 1148.2,696.9 1151.2,696.3 1154.1,695.7 1157.1,695.0 1160.0,694.4 1163.0,693.7 1165.9,693.1 1168.9,692.4 1171.8,691.8 1174.7,691.1 1177.7,690.5 1180.6,689.8 1183.5,689.1 1186.5,688.4 1189.4,687.7 1192.3,687.0 1195.2,686.3 1198.2,685.6 1201.1,684.8 1204.0,684.1 1206.9,683.3 1209.8,682.5 1212.7,681.8 1215.6,681.0 1218.5,680.2 1221.4,679.4 1224.2,678.5 1227.1,677.7 1230.0,676.9 1232.9,676.0 1235.7,675.1 1238.6,674.2 1241.4,673.3 1244.3,672.4 1247.1,671.4 1250.0,670.5 1252.8,669.5 1255.6,668.5 1258.4,667.5 1261.3,666.5 1264.1,665.5 1266.9,664.4 1269.7,663.4 1272.5,662.3 1275.3,661.2 1278.0,660.1 1280.8,658.9 1283.6,657.8 1286.4,656.7 1289.1,655.5 1291.9,654.3 1294.6,653.1 1297.4,651.9 1300.1,650.7 1302.9,649.5 1305.6,648.2 1308.3,647.0 1311.1,645.7 1313.8,644.4 1316.5,643.1 1319.2,641.8 1321.9,640.5 1324.6,639.2 1327.3,637.9 1330.0,636.5 1332.7,635.1 1335.4,633.8 1338.1,632.4 1340.7,631.0 1343.4,629.6 1346.1,628.2 1348.8,626.8 1351.4,625.4 1354.1,623.9 1356.7,622.5 1359.4,621.0 1362.0,619.6 1364.7,618.1 1367.3,616.6 1369.9,615.1 1372.6,613.6 1375.2,612.1 1377.8,610.6 1380.4,609.1 1383.1,607.6 1385.7,606.1 1388.3,604.5 1390.9,603.0 1393.5,601.5 1396.1,599.9 1398.7,598.3 1401.3,596.8 1403.9,595.2 1406.5,593.6 1409.1,592.1 1411.7,590.5 1414.2,588.9 1416.8,587.3 1419.4,585.7 1422.0,584.1 1424.5,582.5 1427.1,580.9 1429.7,579.3 1432.2,577.7 1434.8,576.1 1437.4,574.4 1439.9,572.8 1442.5,571.2 1445.0,569.6 1447.6,568.0 1450.1,566.3 1452.7,564.7 1455.2,563.1 1457.7,561.4 1460.3,559.8 1462.8,558.2 1465.4,556.5 1467.9,554.9 1470.4,553.3 1472.9,551.6 1475.5,550.0 1478.0,548.4 1480.5,546.7 1483.0,545.1 1485.6,543.5 1488.1,541.8 1490.6,540.2 1493.1,538.6 1495.6,536.9 1498.1,535.3 1500.6,533.6 1503.1,532.0 1505.6,530.3 1508.1,528.6 1510.6,527.0 1513.1,525.3 1515.6,523.6 1518.0,521.9 1520.5,520.3 1523.0,518.6 1525.4,516.9 1527.9,515.1 1530.3,513.4 1532.8,511.7 1535.2,510.0 1537.6,508.2 1540.1,506.5 1542.5,504.7 1544.9,502.9 1547.3,501.2 1549.7,499.4 1552.1,497.6 1554.5,495.8 1556.9,493.9 1559.2,492.1 1561.6,490.3 1563.9,488.4 1566.3,486.5 1568.6,484.6 1571.0,482.7 1573.3,480.8 1575.6,478.9 1577.9,476.9 1580.2,475.0 1582.5,473.0 1584.8,471.0 1587.0,469.1 1589.3,467.1 1591.6,465.0 1593.8,463.0 1596.1,461.0 1598.3,459.0 1600.6,456.9 1602.8,454.9 1605.0,452.9 1607.3,450.8 1609.5,448.8 1611.7,446.7 1614.0,444.6 1616.2,442.6 1618.4,440.5 1620.6,438.5 1622.8,436.4 1625.0,434.4 1627.3,432.3 1629.5,430.3 1631.7,428.2 1633.9,426.1 1636.1,424.1 1638.3,422.0 1640.5,420.0 1642.7,417.9 1644.9,415.9 1647.1,413.8 1649.3,411.8 1651.5,409.7 1653.6,407.6 1655.8,405.5 1658.0,403.5 1660.1,401.4 1662.3,399.3 1664.4,397.2 1666.6,395.1 1668.7,393.0 1670.9,390.9 1673.0,388.7 1675.1,386.6 1677.2,384.5 1679.3,382.3 1681.4,380.2 1683.5,378.0 1685.6,375.8 1687.6,373.6 1689.7,371.4 1691.7,369.2 1693.8,367.0 1695.8,364.8 1697.8,362.5 1699.8,360.3 1701.8,358.0 1701.8,361.0 1701.9,364.0 1701.9,367.0 1701.9,370.0 1701.9,373.0 1702.0,376.0 1702.0,379.0 1702.0,382.0 1702.0,385.0 1702.0,388.0 1702.1,391.0 1702.1,394.1 1702.1,397.1 1702.0,400.1 1702.0,403.1 1702.0,406.1 1702.0,409.2 1701.9,412.2 1701.9,415.2 1701.9,418.2 1701.8,421.3 1701.7,424.3 1701.6,427.3 1701.5,430.3 1701.4,433.3 1701.3,436.4 1701.2,439.4 1701.0,442.4 1700.9,445.4 1700.7,448.4 1700.5,451.4 1700.3,454.4 1700.1,457.5 1699.9,460.5 1699.6,463.5 1699.4,466.5 1699.1,469.5 1698.8,472.4 1698.5,475.4 1698.1,478.4 1697.8,481.4 1697.4,484.4 1697.0,487.4 1696.6,490.3 1696.2,493.3 1695.7,496.3 1695.2,499.2 1694.7,502.2 1694.2,505.1 1693.6,508.0 1693.1,511.0 1692.4,513.9 1691.8,516.8 1691.2,519.8 1690.5,522.7 1689.8,525.6 1689.0,528.5 1688.3,531.4 1687.5,534.2 1686.7,537.1 1685.8,540.0 1684.9,542.9 1684.0,545.7 1683.1,548.6 1682.1,551.4 1681.1,554.2 1680.1,557.1 1679.1,559.9 1678.0,562.7 1676.9,565.5 1675.8,568.3 1674.7,571.1 1673.5,573.9 1672.4,576.6 1671.2,579.4 1670.0,582.2 1668.7,584.9 1667.5,587.7 1666.2,590.4 1664.9,593.2 1663.6,595.9 1662.3,598.6 1660.9,601.3 1659.6,604.0 1658.2,606.7 1656.8,609.4 1655.4,612.1 1654.0,614.8 1652.6,617.5 1651.2,620.1 1649.7,622.8 1648.2,625.4 1646.7,628.0 1645.2,630.7 1643.7,633.3 1642.1,635.8 1640.6,638.4 1639.0,641.0 1637.4,643.5 1635.7,646.1 1634.1,648.6 1632.4,651.1 1630.7,653.5 1629.0,656.0 1627.2,658.4 1625.4,660.9 1623.6,663.3 1621.8,665.6 1620.0,668.0 1618.1,670.3 1616.2,672.7 1614.3,675.0 1612.4,677.3 1610.4,679.5 1608.5,681.8 1606.5,684.0 1604.5,686.3 1602.5,688.5 1600.4,690.7 1598.4,692.8 1596.3,695.0 1594.2,697.1 1592.1,699.2 1589.9,701.4 1587.8,703.4 1585.6,705.5 1583.4,707.6 1581.2,709.6 1579.0,711.7 1576.8,713.7 1574.6,715.7 1572.3,717.7 1570.1,719.6 1567.8,721.6 1565.5,723.5 1563.2,725.5 1560.9,727.4 1558.6,729.3 1556.2,731.2 1553.9,733.1 1551.6,734.9 1549.2,736.8 1546.8,738.6 1544.4,740.5 1542.1,742.3 1539.7,744.1 1537.3,745.9 1534.9,747.7 1532.4,749.5 1530.0,751.3 1527.6,753.1 1525.2,754.9 1522.7,756.6 1520.3,758.4 1517.8,760.1 1515.4,761.9 1512.9,763.7 1510.5,765.4 1508.0,767.1 1505.5,768.9 1503.1,770.6 1500.6,772.4 1498.1,774.1 1495.7,775.8 1493.2,777.6 1490.7,779.3 1488.3,781.0 1485.8,782.8 1483.3,784.5 1480.9,786.3 1478.4,788.0 1475.9,789.8 1473.5,791.5 1471.0,793.3 1468.6,795.0 1466.1,796.8 1463.7,798.6 1461.3,800.3 1458.8,802.1 1456.4,803.9 1454.0,805.7 1451.6,807.5 1449.1,809.3 1446.7,811.1 1444.4,813.0 1442.0,814.8 1439.6,816.7 1437.2,818.5 1434.9,820.4 1432.5,822.3 1430.1,824.2 1427.8,826.0 1425.5,827.9 1423.1,829.8 1420.8,831.8 1418.5,833.7 1416.1,835.6 1413.8,837.5 1411.5,839.4 1409.2,841.3 1406.8,843.2 1404.5,845.1 1402.2,847.0 1399.9,848.9 1397.5,850.8 1395.2,852.7 1392.8,854.5 1390.5,856.4 1388.1,858.3 1385.8,860.1 1383.4,861.9 1381.0,863.8 1378.6,865.6 1376.2,867.4 1373.8,869.1 1371.4,870.9 1369.0,872.6 1366.5,874.4 1364.0,876.1 1361.6,877.8 1359.1,879.4 1356.6,881.1 1354.1,882.7 1351.5,884.3 1349.0,885.8 1346.4,887.4 1343.8,888.9 1341.2,890.4 1338.6,891.9 1336.0,893.4 1333.4,894.9 1330.8,896.3 1328.1,897.7 1325.4,899.1 1322.8,900.5 1320.1,901.8 1317.4,903.2 1314.7,904.5 1312.0,905.8 1309.2,907.1 1306.5,908.4 1303.8,909.6 1301.0,910.9 1298.3,912.1 1295.5,913.4 1292.7,914.6 1290.0,915.8 1287.2,917.0 1284.4,918.1 1281.6,919.3 1278.8,920.5 1276.0,921.6 1273.2,922.8 1270.4,923.9 1267.6,925.0 1264.8,926.1 1262.0,927.2 1259.2,928.3 1256.4,929.4 1253.6,930.5 1250.8,931.6 1247.9,932.6 1245.1,933.7 1242.3,934.7 1239.5,935.8 1236.6,936.8 1233.8,937.8 1231.0,938.8 1228.1,939.8 1225.3,940.8 1222.4,941.8 1219.6,942.8 1216.8,943.8 1213.9,944.7 1211.1,945.7 1208.2,946.6 1205.3,947.6 1202.5,948.5 1199.6,949.4 1196.8,950.3 1193.9,951.2 1191.0,952.1 1188.2,953.0 1185.3,953.9 1182.4,954.8 1179.5,955.7 1176.6,956.5 1173.8,957.4 1170.9,958.2 1168.0,959.1 1165.1,959.9 1162.2,960.7 1159.3,961.5 1156.4,962.4 1153.5,963.2 1150.6,964.0 1147.7,964.7 1144.8,965.5 1141.9,966.3 1139.0,967.1 1136.1,967.8 1133.2,968.6 1130.3,969.3 1127.4,970.0 1124.5,970.8 1121.5,971.5 1118.6,972.2 1115.7,972.9 1112.8,973.6 1109.8,974.3 1106.9,975.0 1104.0,975.7 1101.0,976.4 1098.1,977.0 1095.2,977.7 1092.2,978.3 1089.3,979.0 1086.4,979.6 1083.4,980.3 1080.5,980.9 1077.5,981.5 1074.6,982.1 1071.6,982.7 1068.7,983.3 1065.7,983.9 1062.8,984.5 1059.8,985.1 1056.9,985.6 1053.9,986.2 1050.9,986.8 1048.0,987.3 1045.0,987.9 1042.0,988.4 1039.1,989.0 1036.1,989.5 1033.1,990.0 1030.2,990.5 1027.2,991.0 1024.2,991.5 1021.3,992.0 1018.3,992.5 1015.3,993.0 1012.3,993.5 1009.3,994.0 1006.4,994.4 1003.4,994.9 1000.4,995.3 997.4,995.8 994.4,996.2 991.4,996.7 988.4,997.1 985.4,997.5 982.5,997.9 979.5,998.2 976.5,998.6 973.5,998.9 970.5,999.3 967.5,999.6 964.5,999.9 961.5,1000.1 958.5,1000.4 955.5,1000.6 952.5,1000.9 949.5,1001.0 946.5,1001.2 943.5,1001.4 940.5,1001.5 937.5,1001.6 934.5,1001.7 931.5,1001.7 928.5,1001.7 925.6,1001.7 922.6,1001.7 919.6,1001.6 916.6,1001.5 913.6,1001.3 910.6,1001.2 907.6,1001.0 904.6,1000.7 901.6,1000.5 898.6,1000.2 895.6,999.9 892.7,999.5 889.7,999.1 886.7,998.7 883.7,998.3 880.7,997.9 877.7,997.4 874.7,996.9 871.8,996.5 868.8,996.0 865.8,995.5 862.8,995.0 859.8,994.4 856.8,993.9 853.9,993.4 850.9,992.9 847.9,992.4 844.9,991.9 841.9,991.4 838.9,990.9 836.0,990.4 833.0,989.9 830.0,989.4 827.0,989.0 824.0,988.6 821.0,988.1 818.1,987.7 815.1,987.4 812.1,987.0 809.1,986.7 806.1,986.4 803.1,986.1 800.2,985.8 797.2,985.6 794.2,985.4 791.2,985.2 788.2,985.1 785.2,985.0 782.3,984.9 779.3,984.9 776.3,984.9 773.3,984.9 770.3,985.0 767.4,985.1 764.4,985.3 761.4,985.5 758.4,985.7 755.5,986.0 752.5,986.3 749.5,986.7 746.6,987.1 743.6,987.6 740.6,988.0 737.7,988.6 734.7,989.1 731.7,989.7 728.8,990.3 725.8,991.0 722.9,991.7 720.0,992.4 717.0,993.1 714.1,993.9 711.2,994.7 708.3,995.6 705.3,996.4 702.4,997.3 699.5,998.2 696.6,999.2 693.8,1000.1 690.9,1001.1 688.0,1002.1 685.1,1003.1 682.3,1004.2 679.5,1005.2 676.6,1006.3 673.8,1007.4 671.0,1008.5 668.2,1009.6 665.4,1010.7 662.6,1011.9 659.8,1013.0 657.1,1014.1 654.3,1015.3 651.6,1016.5 648.9,1017.6 646.2,1018.8 643.5,1020.0 Z" fill="none" stroke="#FF00FF" stroke-width="13" stroke-linejoin="round" stroke-linecap="butt"/>
<path d="M511.1,1137.0 511.2,1134.0 511.2,1131.0 511.2,1128.0 511.2,1125.0 511.1,1122.0 511.1,1119.0 511.0,1116.0 510.9,1112.9 510.8,1109.9 510.8,1106.9 510.7,1103.9 510.6,1100.8 510.6,1097.8 510.5,1094.8 510.5,1091.8 510.5,1088.8 510.5,1085.7 510.5,1082.7 510.5,1079.7 510.6,1076.7 510.8,1073.7 510.9,1070.7 511.1,1067.7 511.4,1064.7 511.6,1061.8 512.0,1058.8 512.4,1055.8 512.8,1052.9 513.3,1049.9 513.8,1047.0 514.4,1044.0 515.1,1041.1 515.8,1038.2 516.5,1035.3 517.3,1032.4 518.1,1029.5 518.9,1026.6 519.8,1023.8 520.8,1020.9 521.7,1018.1 522.8,1015.3 523.8,1012.4 524.9,1009.6 526.0,1006.8 527.2,1004.1 528.4,1001.3 529.6,998.5 530.9,995.8 532.2,993.1 533.5,990.3 534.8,987.6 536.2,984.9 537.6,982.3 539.1,979.6 540.5,977.0 542.0,974.4 543.5,971.7 545.1,969.2 546.6,966.6 548.2,964.0 549.9,961.5 551.5,959.0 553.2,956.5 554.9,954.0 556.7,951.5 558.4,949.1 560.2,946.6 562.0,944.2 563.9,941.8 565.7,939.5 567.6,937.1 569.5,934.8 571.5,932.5 573.4,930.2 575.4,928.0 577.4,925.7 579.5,923.5 581.5,921.3 583.6,919.2 585.7,917.0 587.8,914.9 590.0,912.8 592.2,910.7 594.4,908.7 596.6,906.7 598.9,904.7 601.1,902.7 603.4,900.8 605.7,898.9 608.1,897.0 610.4,895.2 612.8,893.3 615.2,891.5 617.6,889.8 620.1,888.0 622.5,886.3 625.0,884.6 627.5,883.0 630.1,881.4 632.6,879.8 635.2,878.2 637.7,876.6 640.3,875.1 642.9,873.6 645.5,872.1 648.2,870.6 650.8,869.2 653.4,867.7 656.1,866.3 658.8,864.8 661.4,863.4 664.1,862.0 666.8,860.6 669.5,859.2 672.1,857.8 674.8,856.4 677.5,855.0 680.2,853.7 682.9,852.3 685.6,850.9 688.3,849.5 690.9,848.1 693.6,846.7 696.3,845.2 699.0,843.8 701.6,842.4 704.3,841.0 707.0,839.6 709.6,838.2 712.3,836.8 715.0,835.4 717.7,834.1 720.3,832.7 723.0,831.4 725.7,830.1 728.4,828.8 731.2,827.5 733.9,826.3 736.6,825.0 739.4,823.8 742.1,822.7 744.9,821.5 747.7,820.4 750.5,819.3 753.3,818.3 756.1,817.2 758.9,816.2 761.7,815.2 764.5,814.2 767.4,813.2 770.2,812.2 773.1,811.2 775.9,810.2 778.7,809.2 781.6,808.3 784.4,807.3 787.3,806.3 790.1,805.3 792.9,804.3 795.8,803.3 798.6,802.3 801.4,801.3 804.2,800.2 807.1,799.2 809.9,798.1 812.7,797.1 815.5,796.0 818.3,794.9 821.1,793.8 823.9,792.7 826.7,791.6 829.5,790.5 832.3,789.4 835.1,788.3 837.9,787.2 840.7,786.1 843.5,785.0 846.3,783.8 849.1,782.7 851.9,781.6 854.7,780.4 857.5,779.3 860.3,778.1 863.1,777.0 865.8,775.8 868.6,774.7 871.4,773.5 874.2,772.4 877.0,771.2 879.8,770.1 882.5,768.9 885.3,767.8 888.1,766.6 890.9,765.4 893.7,764.3 896.5,763.1 899.3,762.0 902.0,760.9 904.8,759.7 907.6,758.6 910.4,757.4 913.2,756.3 916.0,755.2 918.8,754.1 921.6,752.9 924.4,751.8 927.2,750.7 930.0,749.6 932.8,748.5 935.6,747.4 938.4,746.3 941.2,745.2 944.0,744.2 946.8,743.1 949.6,742.0 952.4,741.0 955.3,739.9 958.1,738.9 960.9,737.9 963.7,736.9 966.6,735.9 969.4,734.9 972.2,733.9 975.1,732.9 977.9,731.9 980.8,731.0 983.6,730.0 986.5,729.1 989.3,728.2 992.2,727.3 995.0,726.4 997.9,725.5 1000.8,724.6 1003.7,723.8 1006.5,722.9 1009.4,722.1 1012.3,721.3 1015.2,720.5 1018.1,719.7 1021.0,718.9 1023.9,718.2 1026.9,717.4 1029.8,716.7 1032.7,716.0 1035.6,715.3 1038.5,714.6 1041.5,713.9 1044.4,713.2 1047.3,712.5 1050.3,711.9 1053.2,711.2 1056.2,710.6 1059.1,710.0 1062.1,709.3 1065.0,708.7 1068.0,708.1 1070.9,707.5 1073.9,706.9 1076.9,706.3 1079.8,705.7 1082.8,705.1 1085.8,704.6 1088.7,704.0 1091.7,703.4 1094.7,702.8 1097.6,702.3 1100.6,701.7 1103.6,701.1 1106.5,700.5 1109.5,700.0 1112.5,699.4 1115.4,698.8 1118.4,698.3 1121.4,697.7 1124.3,697.1 1127.3,696.5 1130.3,696.0 1133.2,695.4 1136.2,694.8 1139.2,694.2 1142.1,693.6 1145.1,693.0 1148.0,692.4 1151.0,691.8 1153.9,691.1 1156.9,690.5 1159.8,689.9 1162.8,689.2 1165.7,688.6 1168.6,687.9 1171.6,687.2 1174.5,686.6 1177.4,685.9 1180.3,685.2 1183.3,684.4 1186.2,683.7 1189.1,683.0 1192.0,682.2 1194.9,681.4 1197.8,680.7 1200.7,679.9 1203.6,679.1 1206.5,678.2 1209.3,677.4 1212.2,676.5 1215.1,675.7 1217.9,674.8 1220.8,673.9 1223.6,673.0 1226.5,672.1 1229.3,671.1 1232.2,670.2 1235.0,669.2 1237.9,668.2 1240.7,667.2 1243.5,666.2 1246.3,665.2 1249.1,664.2 1251.9,663.2 1254.8,662.1 1257.6,661.0 1260.4,660.0 1263.1,658.9 1265.9,657.8 1268.7,656.7 1271.5,655.6 1274.3,654.4 1277.0,653.3 1279.8,652.1 1282.6,651.0 1285.3,649.8 1288.1,648.6 1290.8,647.4 1293.6,646.2 1296.3,645.0 1299.1,643.8 1301.8,642.5 1304.6,641.3 1307.3,640.0 1310.0,638.8 1312.7,637.5 1315.5,636.2 1318.2,634.9 1320.9,633.6 1323.6,632.3 1326.3,631.0 1329.0,629.7 1331.7,628.3 1334.4,627.0 1337.1,625.6 1339.8,624.3 1342.4,622.9 1345.1,621.5 1347.8,620.2 1350.5,618.8 1353.1,617.4 1355.8,616.0 1358.5,614.6 1361.1,613.2 1363.8,611.7 1366.5,610.3 1369.1,608.9 1371.8,607.4 1374.4,606.0 1377.0,604.5 1379.7,603.1 1382.3,601.6 1385.0,600.2 1387.6,598.7 1390.2,597.2 1392.8,595.7 1395.5,594.2 1398.1,592.7 1400.7,591.2 1403.3,589.7 1405.9,588.2 1408.5,586.7 1411.1,585.2 1413.7,583.7 1416.3,582.1 1418.9,580.6 1421.5,579.1 1424.1,577.5 1426.7,576.0 1429.3,574.4 1431.9,572.9 1434.4,571.3 1437.0,569.7 1439.6,568.2 1442.2,566.6 1444.7,565.0 1447.3,563.4 1449.8,561.8 1452.4,560.2 1454.9,558.6 1457.5,557.0 1460.0,555.4 1462.5,553.7 1465.1,552.1 1467.6,550.5 1470.1,548.8 1472.6,547.2 1475.2,545.5 1477.7,543.9 1480.2,542.2 1482.7,540.5 1485.2,538.8 1487.7,537.2 1490.2,535.5 1492.7,533.8 1495.1,532.1 1497.6,530.4 1500.1,528.7 1502.6,526.9 1505.0,525.2 1507.5,523.5 1509.9,521.7 1512.4,520.0 1514.8,518.3 1517.3,516.5 1519.7,514.7 1522.2,513.0 1524.6,511.2 1527.0,509.4 1529.4,507.6 1531.8,505.8 1534.2,504.0 1536.6,502.2 1539.0,500.4 1541.4,498.6 1543.8,496.8 1546.2,495.0 1548.6,493.1 1551.0,491.3 1553.3,489.4 1555.7,487.6 1558.0,485.7 1560.4,483.8 1562.7,482.0 1565.1,480.1 1567.4,478.2 1569.8,476.3 1572.1,474.4 1574.4,472.5 1576.7,470.6 1579.0,468.7 1581.3,466.8 1583.6,464.8 1585.9,462.9 1588.2,461.0 1590.5,459.0 1592.8,457.0 1595.1,455.1 1597.4,453.1 1599.6,451.2 1601.9,449.2 1604.1,447.2 1606.4,445.2 1608.6,443.2 1610.9,441.2 1613.1,439.2 1615.4,437.2 1617.6,435.2 1619.8,433.1 1622.0,431.1 1624.2,429.1 1626.5,427.0 1628.7,425.0 1630.9,422.9 1633.0,420.9 1635.2,418.8 1637.4,416.7 1639.6,414.7 1641.8,412.6 1643.9,410.5 1646.1,408.4 1648.3,406.3 1650.4,404.2 1652.6,402.1 1654.7,400.0 1656.8,397.9 1659.0,395.7 1661.1,393.6 1663.2,391.5 1665.3,389.3 1667.4,387.2 1669.5,385.0 1671.6,382.9 1673.7,380.7 1675.8,378.5 1677.9,376.3 1680.0,374.2 1682.0,372.0 1684.1,369.8 1686.1,367.6 1688.2,365.4 1690.2,363.2 1692.3,361.0 1694.3,358.7 1696.3,356.5 1698.4,354.3 1700.4,352.0 1702.4,349.8 1704.4,347.5 1706.4,345.3 1708.4,343.0 1710.3,340.8 1712.3,338.5 1714.3,336.2 1716.3,333.9 1718.2,331.7 1720.2,329.4 1722.1,327.1 1724.0,324.8 1726.0,322.5 1727.9,320.1 1729.8,317.8 1731.7,315.5 1733.6,313.2 1735.5,310.8 1737.4,308.5 1739.3,306.2 1741.2,303.8 1743.0,301.5 1744.9,299.1 1746.7,296.7 1748.6,294.4 1750.4,292.0 1752.3,289.6 1754.1,287.2 1755.9,284.8 1757.7,282.4 1759.5,280.0 1761.3,277.6 1763.1,275.2 1764.9,272.8 1766.6,270.3 1768.4,267.9 1770.1,265.5 1771.9,263.0 1773.6,260.6 1775.3,258.1 1777.0,255.6 1778.7,253.1 1780.4,250.7 1782.0,248.2 1783.7,245.7 1785.3,243.1 1787.0,240.6 1788.6,238.1 1790.2,235.6 1791.8,233.0 1793.4,230.5 1794.9,227.9 1796.5,225.4 1798.0,222.8 1799.6,220.2 1801.1,217.6 1802.6,215.0 1804.1,212.4 1805.5,209.7 1807.0,207.1 1808.4,204.5 1809.8,201.8 1811.3,199.2 1812.7,196.5 1814.1,193.9 1815.5,191.2 1816.9,188.6 1818.4,185.9 1819.8,183.3 1821.3,180.6 1822.7,178.0 1824.2,175.4 1825.7,172.8 1827.3,170.2 1828.8,167.6 1830.4,165.1 1832.0,162.5 1833.7,160.0 1833.9,163.0 1834.0,166.1 1834.2,169.1 1834.3,172.1 1834.5,175.1 1834.6,178.2 1834.7,181.2 1834.8,184.2 1834.9,187.2 1835.0,190.3 1835.1,193.3 1835.1,196.3 1835.2,199.3 1835.2,202.4 1835.2,205.4 1835.2,208.4 1835.3,211.4 1835.2,214.4 1835.2,217.4 1835.2,220.5 1835.2,223.5 1835.1,226.5 1835.1,229.5 1835.0,232.5 1834.9,235.5 1834.8,238.5 1834.7,241.5 1834.6,244.5 1834.5,247.5 1834.3,250.5 1834.2,253.5 1834.0,256.5 1833.9,259.5 1833.7,262.5 1833.5,265.5 1833.3,268.5 1833.1,271.5 1832.9,274.5 1832.6,277.5 1832.4,280.5 1832.1,283.5 1831.9,286.5 1831.6,289.5 1831.3,292.4 1831.0,295.4 1830.7,298.4 1830.4,301.4 1830.1,304.4 1829.7,307.3 1829.4,310.3 1829.0,313.3 1828.6,316.3 1828.3,319.2 1827.9,322.2 1827.4,325.2 1827.0,328.1 1826.6,331.1 1826.2,334.0 1825.7,337.0 1825.3,340.0 1824.8,342.9 1824.3,345.9 1823.8,348.8 1823.3,351.8 1822.8,354.7 1822.3,357.7 1821.7,360.6 1821.2,363.6 1820.6,366.5 1820.0,369.5 1819.5,372.4 1818.9,375.3 1818.3,378.3 1817.7,381.2 1817.0,384.1 1816.4,387.1 1815.7,390.0 1815.1,392.9 1814.4,395.8 1813.7,398.8 1813.0,401.7 1812.3,404.6 1811.6,407.5 1810.9,410.4 1810.2,413.3 1809.4,416.2 1808.7,419.2 1807.9,422.1 1807.1,425.0 1806.3,427.9 1805.5,430.8 1804.7,433.7 1803.9,436.5 1803.0,439.4 1802.2,442.3 1801.3,445.2 1800.5,448.1 1799.6,451.0 1798.7,453.9 1797.8,456.7 1796.9,459.6 1796.0,462.5 1795.0,465.4 1794.1,468.2 1793.1,471.1 1792.2,474.0 1791.2,476.8 1790.2,479.7 1789.2,482.5 1788.2,485.4 1787.1,488.2 1786.1,491.1 1785.1,493.9 1784.0,496.7 1782.9,499.6 1781.8,502.4 1780.7,505.2 1779.6,508.0 1778.5,510.8 1777.3,513.6 1776.2,516.4 1775.0,519.2 1773.9,522.0 1772.7,524.8 1771.5,527.6 1770.2,530.3 1769.0,533.1 1767.8,535.8 1766.5,538.6 1765.2,541.3 1763.9,544.0 1762.6,546.8 1761.3,549.5 1760.0,552.2 1758.6,554.9 1757.3,557.6 1755.9,560.3 1754.5,562.9 1753.1,565.6 1751.7,568.3 1750.3,570.9 1748.8,573.5 1747.4,576.2 1745.9,578.8 1744.4,581.4 1742.9,584.0 1741.3,586.6 1739.8,589.1 1738.2,591.7 1736.7,594.2 1735.1,596.8 1733.5,599.3 1731.8,601.8 1730.2,604.3 1728.5,606.8 1726.9,609.3 1725.2,611.8 1723.5,614.2 1721.8,616.7 1720.0,619.1 1718.3,621.5 1716.5,623.9 1714.7,626.3 1712.9,628.7 1711.0,631.1 1709.2,633.4 1707.3,635.7 1705.5,638.1 1703.6,640.4 1701.6,642.7 1699.7,644.9 1697.7,647.2 1695.8,649.5 1693.8,651.7 1691.8,653.9 1689.8,656.1 1687.7,658.3 1685.7,660.5 1683.6,662.7 1681.5,664.8 1679.5,667.0 1677.4,669.1 1675.2,671.2 1673.1,673.3 1671.0,675.4 1668.8,677.5 1666.6,679.6 1664.4,681.7 1662.2,683.7 1660.0,685.8 1657.8,687.8 1655.6,689.8 1653.4,691.8 1651.1,693.8 1648.9,695.8 1646.6,697.8 1644.3,699.8 1642.0,701.8 1639.7,703.7 1637.4,705.7 1635.1,707.6 1632.8,709.5 1630.5,711.5 1628.1,713.4 1625.8,715.3 1623.4,717.2 1621.1,719.1 1618.7,721.0 1616.4,722.8 1614.0,724.7 1611.6,726.6 1609.3,728.4 1606.9,730.3 1604.5,732.2 1602.1,734.0 1599.7,735.8 1597.3,737.7 1594.9,739.5 1592.5,741.3 1590.1,743.1 1587.7,744.9 1585.3,746.7 1582.9,748.6 1580.5,750.4 1578.1,752.2 1575.7,753.9 1573.2,755.7 1570.8,757.5 1568.4,759.3 1566.0,761.1 1563.6,762.9 1561.2,764.7 1558.8,766.5 1556.4,768.2 1554.0,770.0 1551.6,771.8 1549.1,773.6 1546.7,775.4 1544.3,777.2 1541.9,779.0 1539.5,780.8 1537.2,782.6 1534.8,784.4 1532.4,786.2 1530.0,788.0 1527.6,789.8 1525.2,791.6 1522.9,793.4 1520.5,795.2 1518.1,797.1 1515.8,798.9 1513.4,800.8 1511.0,802.6 1508.7,804.5 1506.4,806.3 1504.0,808.2 1501.7,810.1 1499.4,812.0 1497.0,813.9 1494.7,815.8 1492.4,817.7 1490.1,819.6 1487.8,821.6 1485.5,823.5 1483.3,825.5 1481.0,827.4 1478.7,829.4 1476.4,831.4 1474.2,833.4 1471.9,835.4 1469.7,837.4 1467.4,839.4 1465.2,841.4 1462.9,843.4 1460.7,845.4 1458.4,847.4 1456.2,849.5 1454.0,851.5 1451.7,853.5 1449.5,855.5 1447.2,857.5 1445.0,859.6 1442.8,861.6 1440.5,863.6 1438.3,865.6 1436.0,867.6 1433.8,869.7 1431.5,871.7 1429.3,873.7 1427.0,875.7 1424.7,877.7 1422.5,879.6 1420.2,881.6 1417.9,883.6 1415.6,885.6 1413.3,887.5 1411.0,889.4 1408.7,891.4 1406.4,893.3 1404.1,895.2 1401.8,897.1 1399.4,899.0 1397.1,900.9 1394.7,902.8 1392.4,904.6 1390.0,906.4 1387.6,908.3 1385.2,910.1 1382.8,911.9 1380.4,913.6 1377.9,915.4 1375.5,917.1 1373.0,918.8 1370.6,920.5 1368.1,922.2 1365.6,923.9 1363.1,925.5 1360.6,927.2 1358.1,928.8 1355.5,930.4 1353.0,932.0 1350.4,933.5 1347.8,935.1 1345.2,936.6 1342.6,938.1 1340.0,939.5 1337.4,941.0 1334.7,942.4 1332.1,943.8 1329.4,945.2 1326.7,946.6 1324.0,947.9 1321.3,949.2 1318.6,950.6 1315.8,951.8 1313.1,953.1 1310.3,954.4 1307.6,955.6 1304.8,956.8 1302.0,958.0 1299.3,959.2 1296.5,960.4 1293.7,961.6 1290.9,962.8 1288.1,963.9 1285.3,965.1 1282.5,966.2 1279.7,967.3 1276.9,968.5 1274.1,969.6 1271.3,970.7 1268.5,971.8 1265.7,972.9 1262.9,974.0 1260.1,975.2 1257.3,976.3 1254.5,977.4 1251.7,978.5 1248.9,979.6 1246.1,980.7 1243.3,981.7 1240.5,982.8 1237.7,983.9 1234.9,985.0 1232.1,986.1 1229.3,987.1 1226.5,988.2 1223.8,989.3 1221.0,990.4 1218.2,991.4 1215.4,992.5 1212.6,993.5 1209.8,994.6 1207.0,995.7 1204.2,996.7 1201.4,997.8 1198.6,998.8 1195.8,999.8 1193.0,1000.9 1190.2,1001.9 1187.4,1003.0 1184.6,1004.0 1181.8,1005.0 1179.0,1006.1 1176.2,1007.1 1173.4,1008.1 1170.6,1009.2 1167.8,1010.2 1165.0,1011.2 1162.2,1012.2 1159.4,1013.3 1156.6,1014.3 1153.8,1015.3 1151.0,1016.3 1148.2,1017.3 1145.3,1018.3 1142.5,1019.3 1139.7,1020.4 1136.9,1021.4 1134.1,1022.4 1131.2,1023.4 1128.4,1024.4 1125.6,1025.4 1122.8,1026.4 1119.9,1027.4 1117.1,1028.4 1114.3,1029.4 1111.4,1030.4 1108.6,1031.4 1105.7,1032.4 1102.9,1033.4 1100.0,1034.4 1097.2,1035.4 1094.3,1036.4 1091.5,1037.4 1088.6,1038.3 1085.8,1039.3 1082.9,1040.3 1080.0,1041.3 1077.2,1042.3 1074.3,1043.3 1071.4,1044.3 1068.5,1045.3 1065.6,1046.3 1062.8,1047.3 1059.9,1048.3 1057.0,1049.2 1054.1,1050.2 1051.2,1051.2 1048.3,1052.2 1045.4,1053.2 1042.5,1054.2 1039.5,1055.1 1036.6,1056.1 1033.7,1057.0 1030.8,1058.0 1027.9,1058.9 1025.0,1059.8 1022.0,1060.7 1019.1,1061.6 1016.2,1062.4 1013.2,1063.3 1010.3,1064.1 1007.4,1064.9 1004.4,1065.7 1001.5,1066.4 998.6,1067.1 995.6,1067.8 992.7,1068.5 989.8,1069.2 986.8,1069.8 983.9,1070.4 981.0,1070.9 978.0,1071.5 975.1,1072.0 972.2,1072.4 969.2,1072.8 966.3,1073.2 963.4,1073.5 960.4,1073.8 957.5,1074.1 954.6,1074.3 951.6,1074.5 948.7,1074.6 945.8,1074.7 942.9,1074.7 939.9,1074.7 937.0,1074.6 934.1,1074.5 931.2,1074.3 928.3,1074.1 925.4,1073.8 922.5,1073.4 919.6,1073.0 916.7,1072.6 913.8,1072.1 910.9,1071.5 908.0,1070.9 905.1,1070.3 902.2,1069.6 899.3,1068.9 896.4,1068.1 893.6,1067.3 890.7,1066.4 887.8,1065.5 884.9,1064.6 882.1,1063.6 879.2,1062.6 876.4,1061.6 873.5,1060.6 870.7,1059.5 867.8,1058.4 865.0,1057.3 862.1,1056.1 859.3,1055.0 856.5,1053.8 853.6,1052.6 850.8,1051.3 848.0,1050.1 845.2,1048.8 842.4,1047.6 839.6,1046.3 836.8,1045.0 834.0,1043.8 831.2,1042.5 828.4,1041.2 825.6,1039.9 822.8,1038.6 820.0,1037.3 817.2,1036.1 814.5,1034.8 811.7,1033.6 808.9,1032.3 806.1,1031.1 803.3,1029.9 800.5,1028.8 797.7,1027.6 794.9,1026.5 792.2,1025.5 789.3,1024.4 786.5,1023.4 783.7,1022.5 780.9,1021.5 778.1,1020.7 775.2,1019.8 772.4,1019.1 769.6,1018.3 766.7,1017.7 763.8,1017.0 761.0,1016.5 758.1,1016.0 755.2,1015.6 752.3,1015.2 749.4,1014.8 746.5,1014.6 743.5,1014.3 740.6,1014.2 737.7,1014.1 734.7,1014.0 731.8,1014.0 728.8,1014.0 725.9,1014.1 722.9,1014.2 720.0,1014.4 717.0,1014.6 714.1,1014.9 711.1,1015.2 708.2,1015.6 705.2,1016.0 702.2,1016.5 699.3,1017.0 696.3,1017.5 693.4,1018.1 690.4,1018.7 687.5,1019.3 684.5,1020.0 681.6,1020.8 678.7,1021.5 675.8,1022.3 672.8,1023.2 669.9,1024.1 667.0,1025.0 664.1,1025.9 661.2,1026.9 658.3,1027.9 655.5,1028.9 652.6,1030.0 649.7,1031.1 646.9,1032.2 644.1,1033.4 641.3,1034.6 638.4,1035.8 635.6,1037.0 632.9,1038.3 630.1,1039.5 627.3,1040.8 624.6,1042.2 621.9,1043.5 619.2,1044.9 616.5,1046.3 613.8,1047.7 611.1,1049.1 608.5,1050.6 605.9,1052.1 603.2,1053.6 600.6,1055.1 598.1,1056.6 595.5,1058.2 592.9,1059.7 590.4,1061.3 587.9,1062.9 585.4,1064.6 582.9,1066.2 580.4,1067.9 577.9,1069.6 575.5,1071.3 573.0,1073.0 570.6,1074.7 568.2,1076.5 565.8,1078.3 563.4,1080.1 561.1,1081.9 558.7,1083.7 556.4,1085.6 554.1,1087.5 551.8,1089.4 549.5,1091.3 547.2,1093.2 545.0,1095.2 542.8,1097.2 540.7,1099.3 538.5,1101.3 536.4,1103.4 534.3,1105.6 532.3,1107.8 530.3,1110.0 528.3,1112.2 526.4,1114.5 524.5,1116.8 522.7,1119.2 520.9,1121.6 519.1,1124.0 517.4,1126.5 515.8,1129.1 514.2,1131.7 512.6,1134.3 511.1,1137.0 Z" fill="none" stroke="#008200" stroke-width="13" stroke-linejoin="round" stroke-linecap="butt"/>
<circle cx="535" cy="1112" r="7" fill="#008200"/>
<path d="M344.2,6.6 H2001 V1217.7 H344.2 Z" fill="none" stroke="#000" stroke-width="9.3" stroke-linejoin="bevel"/>
<line x1="320" y1="83.1" x2="344.2" y2="83.1" stroke="#000" stroke-width="8.5" stroke-linecap="round"/>
<text x="301.5" y="100.6" text-anchor="end" class="t">0.0010</text>
<line x1="320" y1="234.3" x2="344.2" y2="234.3" stroke="#000" stroke-width="8.5" stroke-linecap="round"/>
<text x="301.5" y="251.8" text-anchor="end" class="t">0.0008</text>
<line x1="320" y1="385.6" x2="344.2" y2="385.6" stroke="#000" stroke-width="8.5" stroke-linecap="round"/>
<text x="301.5" y="403.1" text-anchor="end" class="t">0.0006</text>
<line x1="320" y1="536.9" x2="344.2" y2="536.9" stroke="#000" stroke-width="8.5" stroke-linecap="round"/>
<text x="301.5" y="554.4" text-anchor="end" class="t">0.0004</text>
<line x1="320" y1="688.2" x2="344.2" y2="688.2" stroke="#000" stroke-width="8.5" stroke-linecap="round"/>
<text x="301.5" y="705.7" text-anchor="end" class="t">0.0002</text>
<line x1="320" y1="839.5" x2="344.2" y2="839.5" stroke="#000" stroke-width="8.5" stroke-linecap="round"/>
<text x="301.5" y="857.0" text-anchor="end" class="t">0.0000</text>
<line x1="320" y1="990.7" x2="344.2" y2="990.7" stroke="#000" stroke-width="8.5" stroke-linecap="round"/>
<text x="301.5" y="1008.2" text-anchor="end" class="t">-0.0002</text>
<line x1="320" y1="1142.0" x2="344.2" y2="1142.0" stroke="#000" stroke-width="8.5" stroke-linecap="round"/>
<text x="301.5" y="1159.5" text-anchor="end" class="t">-0.0004</text>
<line x1="510.0" y1="1217.7" x2="510.0" y2="1242" stroke="#000" stroke-width="8.5" stroke-linecap="round"/>
<text x="508.5" y="1310" text-anchor="middle" class="t">-1.0</text>
<line x1="841.2" y1="1217.7" x2="841.2" y2="1242" stroke="#000" stroke-width="8.5" stroke-linecap="round"/>
<text x="839.7" y="1310" text-anchor="middle" class="t">-0.5</text>
<line x1="1172.5" y1="1217.7" x2="1172.5" y2="1242" stroke="#000" stroke-width="8.5" stroke-linecap="round"/>
<text x="1171.0" y="1310" text-anchor="middle" class="t">0.0</text>
<line x1="1503.8" y1="1217.7" x2="1503.8" y2="1242" stroke="#000" stroke-width="8.5" stroke-linecap="round"/>
<text x="1502.3" y="1310" text-anchor="middle" class="t">0.5</text>
<line x1="1835.0" y1="1217.7" x2="1835.0" y2="1242" stroke="#000" stroke-width="8.5" stroke-linecap="round"/>
<text x="1833.5" y="1310" text-anchor="middle" class="t">1.0</text>
<text x="1172.5" y="1425" text-anchor="middle" class="ti">Potential (V)</text>
<text transform="translate(52,584) rotate(-90)" x="0" y="0" text-anchor="middle" class="ti" style="font-size:72px">Current (A)</text>
<line x1="377.5" y1="69.2" x2="511.5" y2="69.2" stroke="#0000A4" stroke-width="12" stroke-linecap="round"/>
<text x="526.8" y="89.6" class="l">-0.5 to 0.5 V</text>
<line x1="377.5" y1="144.4" x2="511.5" y2="144.4" stroke="#FF0000" stroke-width="12" stroke-linecap="round"/>
<text x="526.8" y="164.8" class="l">-0.6 to 0.6 V</text>
<line x1="377.5" y1="219.6" x2="511.5" y2="219.6" stroke="#0000FF" stroke-width="12" stroke-linecap="round"/>
<text x="526.8" y="240.0" class="l">-0.7 to 0.7 V</text>
<line x1="377.5" y1="294.8" x2="511.5" y2="294.8" stroke="#FF00FF" stroke-width="12" stroke-linecap="round"/>
<text x="526.8" y="315.2" class="l">-0.8 to 0.8 V</text>
<line x1="377.5" y1="370.0" x2="511.5" y2="370.0" stroke="#008200" stroke-width="12" stroke-linecap="round"/>
<text x="526.8" y="390.4" class="l">-1 to 1 V</text>
</svg>
</body></html>
